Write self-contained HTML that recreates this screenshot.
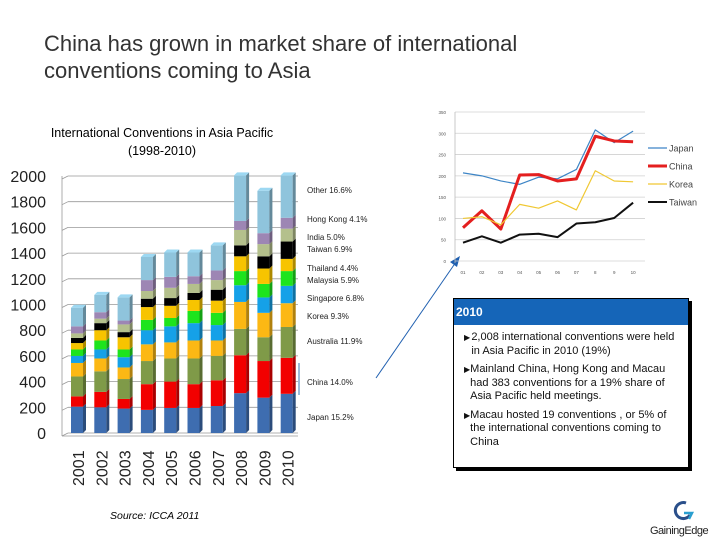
<!DOCTYPE html>
<html><head><meta charset="utf-8"><style>
body{margin:0;width:720px;height:540px;background:#fff;position:relative;overflow:hidden;font-family:"Liberation Sans",sans-serif}
.t{position:absolute;white-space:nowrap}
</style></head><body>
<div class="t" style="left:44px;top:30px;font-size:22px;line-height:27px;color:#333">China has grown in market share of international<br>conventions coming to Asia</div>
<div class="t" style="left:44px;top:124px;font-size:12.5px;line-height:18px;text-align:center;width:236px">International Conventions in Asia Pacific<br>(1998-2010)</div>
<div class="t" style="left:110px;top:510px;font-size:10.5px;font-style:italic">Source: ICCA 2011</div>

<svg id="bars" width="720" height="540" style="position:absolute;left:0;top:0"></svg>

<div style="position:absolute;left:453px;top:298px;width:234px;height:168px;border:1px solid #000;background:#fff;box-shadow:3px 3px 0 #000">
 <div style="background:#1565b8;color:#fff;font-weight:bold;font-size:12px;height:26px;line-height:26px;padding-left:2px">2010</div>
 <div style="font-size:11px;line-height:13.5px;color:#111;padding:6px 6px 0 10px">
  <div style="display:flex;margin-bottom:5px"><span style="font-size:8px;width:12px">&#9654;</span><span>2,008 international conventions  were held  in Asia Pacific in 2010 (19%)</span></div>
  <div style="display:flex;margin-bottom:5px"><span style="font-size:8px;width:12px">&#9654;</span><span>Mainland China, Hong Kong and Macau had 383 conventions for a 19% share of Asia Pacific held meetings.</span></div>
  <div style="display:flex"><span style="font-size:8px;width:12px">&#9654;</span><span>Macau hosted 19 conventions , or 5% of the international conventions coming to China</span></div>
 </div>
</div>

<div style="position:absolute;left:650px;top:497px;width:70px;height:43px">
 <svg width="70" height="43"><path d="M36 6 A8 8 0 1 0 40 18" stroke="#2a4f8a" stroke-width="3" fill="none"/><path d="M34 16 L42 16 L39 22" stroke="#2a9fd0" stroke-width="2.5" fill="none"/></svg>
 <div class="t" style="left:0;top:28px;font-size:11px;color:#222;letter-spacing:-0.5px">GainingEdge</div>
</div>

<script>
const years=['2001','2002','2003','2004','2005','2006','2007','2008','2009','2010'];
const segNames=['Japan','China','Australia','Korea','Singapore','Malaysia','Thailand','Taiwan','India','Hong Kong','Other'];
const segColors=['#3e6db0','#f20000','#7f9a48','#fcb814','#15a1e8','#1de41d','#f7c400','#000000','#b4c08c','#9d86b4','#8fc4dc'];
const japan=[205,200,190,180,195,195,210,310,275,305];
const china=[80,120,75,200,205,185,200,295,285,280];
const australia=[155,160,155,180,180,200,190,205,185,240];
const korea=[105,100,90,130,125,140,120,210,190,185];
const singapore=[55,70,80,110,125,135,120,130,120,135];
const malaysia=[50,70,60,80,65,95,95,110,105,115];
const thailand=[50,80,95,100,95,85,95,115,120,95];
const taiwan=[40,55,40,65,60,55,85,85,95,135];
const india=[35,35,60,60,80,70,75,120,95,100];
const hongkong=[55,50,30,85,85,60,75,70,85,85];
const other=[145,135,180,180,190,185,195,355,330,330];
const segLabels=['Japan 15.2%','China 14.0%','Australia 11.9%','Korea 9.3%','Singapore 6.8%','Malaysia 5.9%','Thailand 4.4%','Taiwan 6.9%','India 5.0%','Hong Kong 4.1%','Other 16.6%'];
const segLabelY=[417,382,341,316,298,280,268,249,237,219,190];
const yTicks=[0,200,400,600,800,1000,1200,1400,1600,1800,2000];
const lineX=['01','02','03','04','05','06','07','8','9','10'];
const lineTicks=[0,50,100,150,200,250,300,350];
const lJapan=[207,200,188,180,197,193,215,308,278,305];
const lChina=[78,118,75,202,203,188,193,293,282,280];
const lKorea=[100,104,85,133,124,141,120,212,188,186];
const lTaiwan=[43,58,43,62,64,56,88,91,101,137];

const NS='http://www.w3.org/2000/svg';
const svg=document.getElementById('bars');
function mk(tag,attrs,parent){const e=document.createElementNS(NS,tag);for(const k in attrs)e.setAttribute(k,attrs[k]);(parent||svg).appendChild(e);return e;}
function shade(hex,f){const n=parseInt(hex.slice(1),16);let r=n>>16,g=(n>>8)&255,b=n&255;return `rgb(${Math.min(255,Math.round(r*f))},${Math.min(255,Math.round(g*f))},${Math.min(255,Math.round(b*f))})`;}
const y=v=>433-v*(433-176)/2000;
const xc=i=>77+i*23.3;
yTicks.forEach(v=>{
 const g=mk('line',{x1:62,y1:y(v)+3,x2:68,y2:y(v),stroke:'#999','stroke-width':0.8});
 
 
 const l=mk('line',{x1:68,y1:y(v),x2:298,y2:y(v),stroke:'#999','stroke-width':0.8});
 
 
 const t=mk('text',{x:46,y:y(v)+6,'text-anchor':'end','font-size':16,fill:'#222','font-family':'Liberation Sans'});
 t.textContent=v;
 
 
});
mk('line',{x1:62,y1:176,x2:62,y2:436,stroke:'#999','stroke-width':0.8});
mk('line',{x1:62,y1:436,x2:298,y2:436,stroke:'#999','stroke-width':0.8});
const series=[japan,china,australia,korea,singapore,malaysia,thailand,taiwan,india,hongkong,other];
years.forEach((yr,i)=>{
 let cum=0;const cx=xc(i);
 series.forEach((s,k)=>{
  const v0=cum,v1=cum+s[i];cum=v1;
  const r=mk('rect',{x:cx-6,y:y(v1),width:12,height:y(v0)-y(v1),fill:segColors[k]});
  
  
  mk('polygon',{points:`${cx+6},${y(v0)} ${cx+9},${y(v0)-3} ${cx+9},${y(v1)-3} ${cx+6},${y(v1)}`,fill:shade(segColors[k],0.7)});
 });
 mk('polygon',{points:`${cx-6},${y(cum)} ${cx-3},${y(cum)-3} ${cx+9},${y(cum)-3} ${cx+6},${y(cum)}`,fill:shade(segColors[10],1.1)});
 const t=mk('text',{transform:`translate(${cx+7},486) rotate(-90)`,'font-size':16,fill:'#222','font-family':'Liberation Sans'});
 t.textContent=yr;
 
 
});
segLabels.forEach((s,k)=>{
 const t=mk('text',{x:307,y:segLabelY[k]+3,'font-size':8,fill:'#222','font-family':'Liberation Sans'});
 t.textContent=s;
 
 
});
mk('line',{x1:299,y1:363,x2:299,y2:395,stroke:'#3a78b5','stroke-width':1});
mk('line',{x1:376,y1:378,x2:456,y2:262,stroke:'#2060b0','stroke-width':1});
mk('polygon',{points:'460,256 450,262 457,267',fill:'#2060b0'});

const ly=v=>261-v*(261-112)/350;
const lx=i=>463+i*18.9;
lineTicks.forEach(v=>{
 const l=mk('line',{x1:455,y1:ly(v),x2:645,y2:ly(v),stroke:'#d0d0d0','stroke-width':0.8});
 
 
 const t=mk('text',{x:446,y:ly(v)+2,'text-anchor':'end','font-size':4.5,fill:'#555','font-family':'Liberation Sans'});
 t.textContent=v;
 
 
});
mk('line',{x1:455,y1:112,x2:455,y2:263,stroke:'#bbb','stroke-width':0.8});
lineX.forEach((s,i)=>{
 const t=mk('text',{x:lx(i),y:274,'text-anchor':'middle','font-size':4.5,fill:'#555','font-family':'Liberation Sans'});
 t.textContent=s;
 
 
});
const lines=[[lJapan,'#3d85c6',1.2,'Japan'],[lChina,'#e41f1f',3,'China'],[lKorea,'#f0c833',1.2,'Korea'],[lTaiwan,'#111',2,'Taiwan']];
lines.forEach(([d,c,w,n],k)=>{
 const p=mk('polyline',{points:d.map((v,i)=>lx(i)+','+ly(v)).join(' '),fill:'none',stroke:c,'stroke-width':w,'stroke-linejoin':'round'});
 
 
 const ly0=148+k*18;
 mk('line',{x1:648,y1:ly0,x2:667,y2:ly0,stroke:c,'stroke-width':w});
 const t=mk('text',{x:669,y:ly0+3.5,'font-size':9,fill:'#444','font-family':'Liberation Sans'});
 t.textContent=n;
 
 
});
</script>
</body></html>
